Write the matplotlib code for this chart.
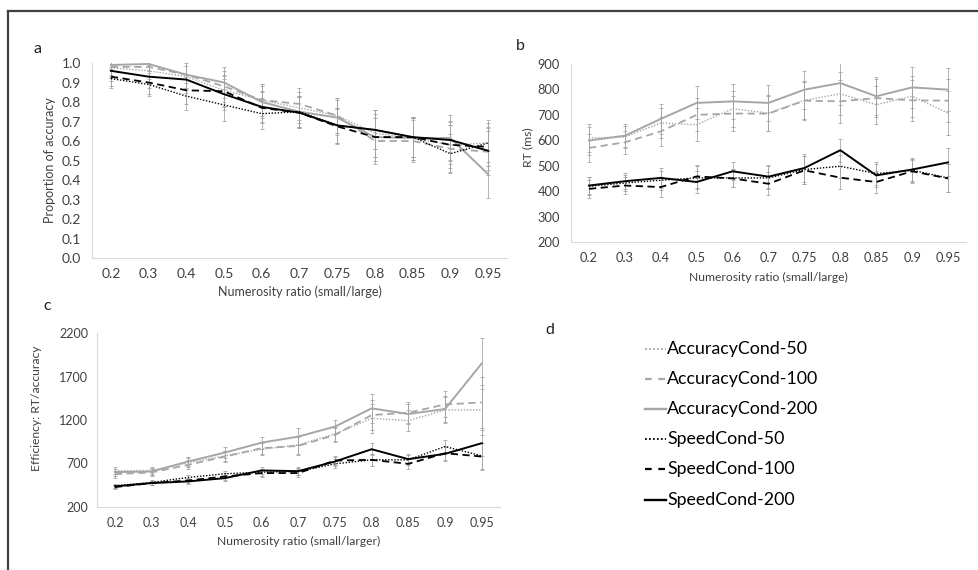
import numpy as np
import matplotlib
matplotlib.use("Agg")
import matplotlib.pyplot as plt
from matplotlib.lines import Line2D

plt.rcParams['font.family'] = ['Lato', 'DejaVu Sans']

ratios = ['0.2', '0.3', '0.4', '0.5', '0.6', '0.7', '0.75', '0.8', '0.85', '0.9', '0.95']
series_names = ['AccuracyCond-50', 'AccuracyCond-100', 'AccuracyCond-200',
                'SpeedCond-50', 'SpeedCond-100', 'SpeedCond-200']

# Panel a: proportion of accuracy
acc_a = {
    'AccuracyCond-50':  [0.975, 0.96, 0.93, 0.86, 0.81, 0.77, 0.73, 0.64, 0.615, 0.58, 0.59],
    'AccuracyCond-100': [0.98, 0.98, 0.94, 0.88, 0.81, 0.79, 0.73, 0.60, 0.60, 0.56, 0.545],
    'AccuracyCond-200': [0.99, 0.995, 0.94, 0.90, 0.80, 0.75, 0.72, 0.62, 0.615, 0.615, 0.43],
    'SpeedCond-50':     [0.92, 0.89, 0.83, 0.785, 0.74, 0.75, 0.68, 0.657, 0.62, 0.535, 0.59],
    'SpeedCond-100':    [0.93, 0.90, 0.86, 0.855, 0.77, 0.745, 0.675, 0.62, 0.62, 0.58, 0.57],
    'SpeedCond-200':    [0.96, 0.93, 0.915, 0.84, 0.775, 0.745, 0.68, 0.657, 0.62, 0.605, 0.55],
}
err_a_acc = [0.05, 0.06, 0.07, 0.08, 0.08, 0.08, 0.09, 0.12, 0.11, 0.12, 0.12]
err_a_spd = [0.05, 0.06, 0.07, 0.08, 0.08, 0.08, 0.09, 0.10, 0.10, 0.10, 0.10]

# Panel b: RT (ms)
rt_b = {
    'AccuracyCond-50':  [609, 613, 668, 661, 724, 707, 757, 783, 740, 773, 707],
    'AccuracyCond-100': [570, 592, 635, 700, 705, 705, 756, 753, 766, 757, 756],
    'AccuracyCond-200': [599, 618, 684, 747, 753, 747, 799, 825, 773, 808, 799],
    'SpeedCond-50':     [419, 432, 443, 452, 452, 452, 485, 498, 469, 482, 452],
    'SpeedCond-100':    [409, 422, 416, 458, 450, 429, 482, 453, 436, 478, 450],
    'SpeedCond-200':    [422, 439, 452, 436, 478, 457, 491, 561, 462, 485, 513],
}
err_b_acc = [55, 45, 58, 65, 70, 70, 75, 85, 75, 80, 85]
err_b_spd = [35, 32, 38, 45, 35, 45, 55, 45, 45, 45, 55]

# Panel c: efficiency RT/accuracy
eff_c = {
    'AccuracyCond-50':  [616, 620, 711, 788, 864, 914, 1040, 1219, 1192, 1315, 1315],
    'AccuracyCond-100': [578, 597, 685, 780, 876, 902, 1028, 1257, 1284, 1379, 1402],
    'AccuracyCond-200': [601, 608, 723, 826, 940, 1009, 1124, 1334, 1269, 1326, 1849],
    'SpeedCond-50':     [444, 482, 540, 582, 601, 608, 696, 742, 742, 895, 788],
    'SpeedCond-100':    [429, 475, 505, 551, 590, 590, 734, 742, 696, 818, 780],
    'SpeedCond-200':    [437, 475, 494, 532, 620, 612, 723, 864, 750, 811, 933],
}
err_c_acc = [40, 40, 50, 60, 70, 100, 80, 170, 120, 150, 290]
err_c_spd = [20, 25, 30, 35, 40, 45, 50, 70, 60, 80, 150]

GRAY = '#a6a6a6'
BLACK = '#000000'
styles = {
    'AccuracyCond-50':  dict(color=GRAY, ls=(0, (1, 1.2)), lw=1.0),
    'AccuracyCond-100': dict(color=GRAY, ls=(0, (4, 2.5)), lw=1.3),
    'AccuracyCond-200': dict(color=GRAY, ls='-', lw=1.4),
    'SpeedCond-50':     dict(color=BLACK, ls=(0, (1, 1.2)), lw=1.0),
    'SpeedCond-100':    dict(color=BLACK, ls=(0, (4, 2.5)), lw=1.3),
    'SpeedCond-200':    dict(color=BLACK, ls='-', lw=1.4),
}

W, H = 979, 570
fig = plt.figure(figsize=(W / 100, H / 100), dpi=100)
fig.patch.set_facecolor('white')


def px_axes(left, right, top, bottom):
    return fig.add_axes([left / W, 1 - bottom / H, (right - left) / W, (bottom - top) / H])


def draw_panel(ax, data, err_acc, err_spd, ylim, yticks, yfmt, tick_fs, lab_fs, ylabel, xlabel,
               ylab_coords, xlab_y, ypad, xpad):
    x = np.arange(len(ratios))
    for name in series_names:
        err = err_acc if name.startswith('Accuracy') else err_spd
        ax.errorbar(x, data[name], yerr=err, fmt='none', ecolor='#a0a0a0',
                    elinewidth=0.55, capsize=1.6, capthick=0.55, zorder=1)
    for name in series_names:
        st = styles[name]
        ax.plot(x, data[name], color=st['color'], linestyle=st['ls'], lw=st['lw'], zorder=3)
    ax.set_xlim(-0.5, len(ratios) - 0.5)
    ax.set_ylim(*ylim)
    ax.set_xticks(x)
    ax.set_xticklabels(ratios, fontsize=tick_fs, color='#404040')
    ax.set_yticks(yticks)
    ax.set_yticklabels([yfmt(v) for v in yticks], fontsize=tick_fs, color='#404040')
    ax.tick_params(length=0)
    ax.tick_params(axis='x', pad=xpad)
    ax.tick_params(axis='y', pad=ypad)
    for s in ['top', 'right']:
        ax.spines[s].set_visible(False)
    for s in ['left', 'bottom']:
        ax.spines[s].set_color('#d9d9d9')
        ax.spines[s].set_linewidth(0.8)
    ax.set_ylabel(ylabel, fontsize=lab_fs, color='#404040')
    ax.yaxis.set_label_coords(*ylab_coords)
    ax.set_xlabel(xlabel, fontsize=lab_fs, color='#404040')
    ax.xaxis.set_label_coords(0.5, xlab_y)
    ax.xaxis.label.set_va('center')
    ax.yaxis.label.set_va('center')


# Panel a
ax_a = px_axes(92, 507, 63, 258)
draw_panel(ax_a, acc_a, err_a_acc, err_a_spd, (0, 1.0), np.round(np.arange(0, 1.01, 0.1), 1),
           lambda v: f'{v:.1f}', 10, 9, 'Proportion of accuracy', 'Numerosity ratio (small/large)',
           (-0.101, 0.5), -0.174, 8, 7)

# Panel b
ax_b = px_axes(571, 966, 64, 242)
draw_panel(ax_b, rt_b, err_b_acc, err_b_spd, (200, 900), np.arange(200, 901, 100),
           lambda v: f'{int(v)}', 9.3, 8.7, 'RT (ms)', 'Numerosity ratio (small/large)',
           (-0.109, 0.53), -0.197, 8, 7)

# Panel c
ax_c = px_axes(96.6, 500, 333, 507)
draw_panel(ax_c, eff_c, err_c_acc, err_c_spd, (200, 2200), np.arange(200, 2201, 500),
           lambda v: f'{int(v)}', 9, 8.7, 'Efficiency: RT/accuracy', 'Numerosity ratio (small/larger)',
           (-0.148, 0.57), -0.201, 6, 7)

# Panel letters
for letter, (px, py) in {'a': (38, 49), 'b': (520, 46), 'c': (47, 306), 'd': (550, 330)}.items():
    fig.text(px / W, 1 - py / H, letter, fontsize=11.5, color='#202020', va='center', ha='center')

# Panel d legend
ax_d = px_axes(560, 960, 330, 520)
ax_d.set_axis_off()
ax_d.set_xlim(560, 960)
ax_d.set_ylim(520, 330)
row_y = [349, 379, 409, 439, 469, 500]
for name, yy in zip(series_names, row_y):
    st = styles[name]
    if st['ls'] == '-':
        ls = '-'
    elif name.endswith('-100'):
        ls = (0, (3, 3))
    else:
        ls = (0, (1, 1.2))
    ax_d.add_line(Line2D([645, 666], [yy, yy], color=st['color'], linestyle=ls,
                         lw=st['lw'] + 0.3))
    ax_d.text(667, yy, name, fontsize=12.8, color='#000000', va='center', ha='left')

# Frame lines (top and left border)
fig.add_artist(Line2D([8 / W, 8 / W], [0, 1 - 11 / H], transform=fig.transFigure,
                      color='#404040', lw=1.6))
fig.add_artist(Line2D([8 / W, 1], [1 - 11 / H, 1 - 11 / H], transform=fig.transFigure,
                      color='#404040', lw=1.6))

fig.savefig('out.png', dpi=100, facecolor=fig.get_facecolor())
